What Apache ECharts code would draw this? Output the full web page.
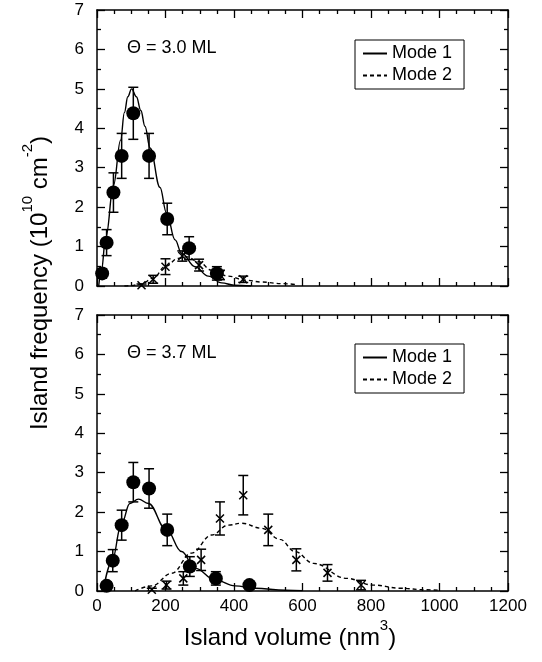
<!DOCTYPE html>
<html>
<head>
<meta charset="utf-8">
<script src="https://cdn.jsdelivr.net/npm/echarts@6/dist/echarts.min.js"></script>
<style>
  html, body { margin: 0; padding: 0; background: #fff; }
  #chart { width: 542px; height: 662px; }
</style>
</head>
<body>
<div id="chart"></div>
<script>
// --- data ---
// Theta = 3.0 ML (top panel)
var top1Vol  = [15, 28, 48, 72, 106, 152, 205, 269, 350];
var top1Freq = [0.32, 1.1, 2.37, 3.3, 4.38, 3.3, 1.7, 0.96, 0.32];
var top1Err  = [0.12, 0.33, 0.5, 0.57, 0.66, 0.57, 0.4, 0.29, 0.17];
var top2Vol  = [130, 164, 200, 249, 298, 359, 427];
var top2Freq = [0.02, 0.17, 0.49, 0.76, 0.53, 0.28, 0.17];
var top2Err  = [0.03, 0.1, 0.2, 0.13, 0.15, 0.12, 0.08];
var topFit1Vol  = [5, 12, 26, 48, 69, 80, 90, 101, 115, 128, 140, 155, 184, 203, 228, 247, 286, 325, 364, 400, 450];
var topFit1Freq = [0, 0.35, 1.25, 2.55, 3.7, 4.4, 4.8, 5.0, 4.8, 4.45, 4.05, 3.5, 2.5, 1.85, 1.17, 0.83, 0.49, 0.25, 0.08, 0.02, 0];
var topFit2Vol  = [80, 100, 130, 164, 200, 237, 261, 296, 335, 383, 432, 481, 540, 580];
var topFit2Freq = [0, 0.01, 0.05, 0.2, 0.5, 0.7, 0.74, 0.62, 0.4, 0.25, 0.15, 0.1, 0.06, 0.04];

// Theta = 3.7 ML (bottom panel)
var bot1Vol  = [28, 46, 72, 106, 152, 205, 271, 347, 445];
var bot1Freq = [0.13, 0.77, 1.67, 2.76, 2.6, 1.55, 0.62, 0.32, 0.15];
var bot1Err  = [0.1, 0.28, 0.38, 0.5, 0.5, 0.4, 0.25, 0.17, 0.08];
var bot2Vol  = [160, 203, 252, 304, 359, 427, 500, 582, 673, 771];
var bot2Freq = [0.03, 0.15, 0.32, 0.79, 1.84, 2.43, 1.55, 0.79, 0.46, 0.15];
var bot2Err  = [0.04, 0.1, 0.17, 0.27, 0.42, 0.5, 0.4, 0.28, 0.21, 0.12];
var botFit1Vol  = [18, 43, 72, 96, 121, 150, 203, 247, 286, 345, 403, 461, 550, 600];
var botFit1Freq = [0, 0.74, 1.72, 2.22, 2.33, 2.22, 1.55, 1.0, 0.58, 0.28, 0.13, 0.07, 0.02, 0.01];
var botFit2Vol  = [111, 160, 218, 276, 335, 383, 422, 481, 534, 578, 632, 729, 807, 885, 960, 1000];
var botFit2Freq = [0, 0.13, 0.45, 0.96, 1.42, 1.67, 1.72, 1.59, 1.31, 1.0, 0.7, 0.32, 0.15, 0.07, 0.03, 0.02];

var panelLabels = ['\u0398 = 3.0 ML', '\u0398 = 3.7 ML'];
var legendNames = ['Mode 1', 'Mode 2'];

var FONT = '"Liberation Sans", Arial, Helvetica, sans-serif';
var crossPath = 'path://M0,0L10,10M10,0L0,10';

function zip(a, b, c) {
  return a.map(function (v, i) { return c ? [v, b[i], c[i]] : [v, b[i]]; });
}

function errorBars(data, xi, yi) {
  return {
    type: 'custom',
    xAxisIndex: xi, yAxisIndex: yi,
    clip: true,
    z: 3,
    data: data,
    renderItem: function (params, api) {
      var x = api.value(0), y = api.value(1), e = api.value(2);
      var hi = api.coord([x, y + e]);
      var lo = api.coord([x, y - e]);
      var st = { stroke: '#000', lineWidth: 1.5 };
      return {
        type: 'group',
        children: [
          { type: 'line', shape: { x1: hi[0], y1: hi[1], x2: lo[0], y2: lo[1] }, style: st },
          { type: 'line', shape: { x1: hi[0] - 5, y1: hi[1], x2: hi[0] + 5, y2: hi[1] }, style: st },
          { type: 'line', shape: { x1: lo[0] - 5, y1: lo[1], x2: lo[0] + 5, y2: lo[1] }, style: st }
        ]
      };
    }
  };
}

function dots(data, xi, yi) {
  return {
    type: 'scatter', name: 'Mode 1 data', xAxisIndex: xi, yAxisIndex: yi,
    symbol: 'circle', symbolSize: 14, z: 4,
    itemStyle: { color: '#000', opacity: 1 }, data: data
  };
}

function crosses(data, xi, yi) {
  return {
    type: 'scatter', name: 'Mode 2 data', xAxisIndex: xi, yAxisIndex: yi,
    symbol: crossPath, symbolSize: 8, z: 4,
    itemStyle: { color: 'none', borderColor: '#000', borderWidth: 1.5, opacity: 1 }, data: data
  };
}

function fit(name, data, xi, yi, dashed) {
  return {
    type: 'line', name: name, xAxisIndex: xi, yAxisIndex: yi,
    symbol: 'none', showSymbol: false, smooth: 0.4, smoothMonotone: 'x', z: 2,
    lineStyle: { color: '#000', width: 1.4, type: dashed ? [4, 3] : 'solid' },
    itemStyle: { color: '#000' },
    data: data
  };
}

function xAx(grid, pos, labels) {
  return {
    type: 'value', gridIndex: grid, position: pos, min: 0, max: 1200, interval: 200,
    axisLine: { show: true, onZero: false, lineStyle: { color: '#000', width: 1.5 } },
    axisTick: { show: true, inside: true, length: 8, lineStyle: { color: '#000', width: 1.3 } },
    minorTick: { show: true, splitNumber: 4, length: 4, lineStyle: { color: '#000', width: 1.3 } },
    splitLine: { show: false },
    axisLabel: {
      show: labels, color: '#000', fontSize: 17, fontFamily: FONT, margin: 7,
      formatter: function (v) { return String(v); }
    }
  };
}

function yAx(grid, pos, labels) {
  return {
    type: 'value', gridIndex: grid, position: pos, min: 0, max: 7, interval: 1,
    axisLine: { show: true, onZero: false, lineStyle: { color: '#000', width: 1.5 } },
    axisTick: { show: true, inside: true, length: 8, lineStyle: { color: '#000', width: 1.3 } },
    minorTick: { show: true, splitNumber: 2, length: 4, lineStyle: { color: '#000', width: 1.3 } },
    splitLine: { show: false },
    axisLabel: { show: labels, color: '#000', fontSize: 17, fontFamily: FONT, margin: 13 }
  };
}

function legendBox(topPx) {
  return {
    data: legendNames, orient: 'vertical', left: 355, top: topPx,
    selectedMode: false,
    borderColor: '#000', borderWidth: 1, padding: [4, 12, 4, 7],
    itemWidth: 24, itemHeight: 10, itemGap: 3, itemTextGap: 10,
    itemStyle: { opacity: 0 },
    lineStyle: { inherit: true },
    textStyle: { color: '#000', fontSize: 18, fontFamily: FONT, lineHeight: 19 }
  };
}

var supText = {
  a: { fontSize: 24, fontFamily: FONT, fill: '#000', lineHeight: 32, verticalAlign: 'bottom' },
  s: { fontSize: 15, fontFamily: FONT, fill: '#000', lineHeight: 32, verticalAlign: 'top' }
};

var chart = echarts.init(document.getElementById('chart'), null, { renderer: 'canvas' });

var option = {
  backgroundColor: '#fff',
  animation: false,
  grid: [
    { left: 97, top: 10, width: 411, height: 276 },
    { left: 97, top: 315, width: 411, height: 276 }
  ],
  xAxis: [xAx(0, 'bottom', false), xAx(0, 'top', false), xAx(1, 'bottom', true), xAx(1, 'top', false)],
  yAxis: [yAx(0, 'left', true), yAx(0, 'right', false), yAx(1, 'left', true), yAx(1, 'right', false)],
  legend: [legendBox(40), legendBox(344)],
  graphic: [
    { type: 'text', left: 127, top: 39, style: { text: panelLabels[0], fill: '#000', font: '18px ' + FONT } },
    { type: 'text', left: 127, top: 344, style: { text: panelLabels[1], fill: '#000', font: '18px ' + FONT } },
    {
      type: 'text', x: 36, y: 283, rotation: Math.PI / 2,
      style: {
        text: '{a|Island frequency (10}{s|10}{a| cm}{s|-2}{a|)}',
        align: 'center', verticalAlign: 'middle', rich: supText
      }
    },
    {
      type: 'text', x: 290, y: 634,
      style: {
        text: '{a|Island volume (nm}{s|3}{a|)}',
        align: 'center', verticalAlign: 'middle', rich: supText
      }
    }
  ],
  series: [
    fit('Mode 1', zip(topFit1Vol, topFit1Freq), 0, 0, false),
    fit('Mode 2', zip(topFit2Vol, topFit2Freq), 0, 0, true),
    errorBars(zip(top1Vol, top1Freq, top1Err), 0, 0),
    errorBars(zip(top2Vol, top2Freq, top2Err), 0, 0),
    dots(zip(top1Vol, top1Freq), 0, 0),
    crosses(zip(top2Vol, top2Freq), 0, 0),

    fit('Mode 1', zip(botFit1Vol, botFit1Freq), 2, 2, false),
    fit('Mode 2', zip(botFit2Vol, botFit2Freq), 2, 2, true),
    errorBars(zip(bot1Vol, bot1Freq, bot1Err), 2, 2),
    errorBars(zip(bot2Vol, bot2Freq, bot2Err), 2, 2),
    dots(zip(bot1Vol, bot1Freq), 2, 2),
    crosses(zip(bot2Vol, bot2Freq), 2, 2)
  ]
};

chart.setOption(option);
</script>
</body>
</html>
